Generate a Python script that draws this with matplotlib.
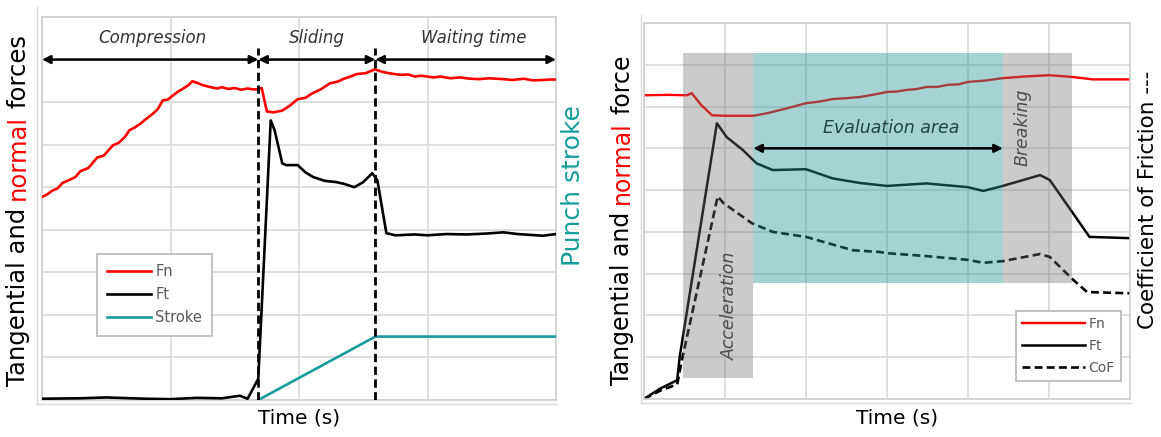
import matplotlib
matplotlib.use('Agg')
import matplotlib.pyplot as plt
from matplotlib.transforms import IdentityTransform
from matplotlib.lines import Line2D
from matplotlib.patches import Rectangle

# ---------------- data (left panel) ----------------
phase_names = ["Compression", "Sliding", "Waiting time"]
phase_bounds = [0.0, 1.683, 2.594, 4.0]
phase_label_x = [0.856, 2.14, 3.36]

t_fn_left = [0.00, 0.04, 0.08, 0.12, 0.16, 0.22, 0.26, 0.30, 0.36, 0.43, 0.48, 0.55, 0.60,
             0.65, 0.68, 0.72, 0.76, 0.80, 0.86, 0.90, 0.94, 0.98, 1.02, 1.06, 1.10, 1.14,
             1.17, 1.21, 1.25, 1.30, 1.36, 1.40, 1.45, 1.50, 1.55, 1.60, 1.64, 1.68, 1.71,
             1.75, 1.80, 1.87, 1.93, 1.99, 2.05, 2.10, 2.17, 2.24, 2.30, 2.35, 2.40, 2.45,
             2.52, 2.59, 2.64, 2.68, 2.74, 2.80, 2.85, 2.90, 2.95, 3.00, 3.05, 3.10, 3.18,
             3.25, 3.33, 3.40, 3.48, 3.59, 3.66, 3.75, 3.82, 3.90, 3.95, 4.00]
fn_left = [4.77, 4.83, 4.92, 4.97, 5.10, 5.18, 5.24, 5.38, 5.45, 5.70, 5.74, 5.98, 6.05,
           6.20, 6.34, 6.40, 6.48, 6.58, 6.72, 6.83, 7.04, 7.06, 7.16, 7.25, 7.32, 7.40,
           7.49, 7.45, 7.40, 7.36, 7.32, 7.35, 7.31, 7.33, 7.29, 7.32, 7.30, 7.30, 7.33,
           6.78, 6.76, 6.80, 6.92, 7.07, 7.10, 7.20, 7.30, 7.44, 7.48, 7.55, 7.60, 7.66,
           7.68, 7.77, 7.72, 7.69, 7.66, 7.64, 7.65, 7.60, 7.62, 7.60, 7.58, 7.60, 7.56,
           7.58, 7.55, 7.54, 7.56, 7.54, 7.52, 7.55, 7.51, 7.52, 7.53, 7.53]

t_ft_left = [0.00, 0.30, 0.50, 0.80, 1.00, 1.20, 1.40, 1.54, 1.60, 1.683, 1.78, 1.81, 1.87,
             1.90, 1.99, 2.05, 2.11, 2.20, 2.29, 2.35, 2.43, 2.50, 2.57, 2.61, 2.68, 2.75,
             2.90, 3.00, 3.15, 3.30, 3.45, 3.59, 3.70, 3.80, 3.90, 4.00]
ft_left = [0.03, 0.04, 0.06, 0.03, 0.02, 0.05, 0.04, 0.10, 0.03, 0.50, 6.57, 6.34, 5.56,
           5.52, 5.52, 5.35, 5.24, 5.15, 5.12, 5.08, 5.00, 5.12, 5.33, 5.16, 3.92, 3.87,
           3.89, 3.87, 3.90, 3.89, 3.91, 3.94, 3.90, 3.88, 3.86, 3.90]

t_stroke = [1.683, 2.594, 4.0]
stroke = [0.0, 1.49, 1.49]

# ---------------- data (right panel) ----------------
t_fn_right = [0.00, 0.30, 0.53, 0.59, 0.70, 0.84, 1.00, 1.35, 1.52, 1.75, 2.00, 2.17, 2.33,
              2.50, 2.67, 2.85, 3.00, 3.12, 3.25, 3.37, 3.49, 3.62, 3.75, 3.88, 4.00, 4.20,
              4.43, 4.70, 5.00, 5.28, 5.54, 6.00]
fn_right = [7.27, 7.28, 7.27, 7.32, 7.05, 6.79, 6.78, 6.78, 6.84, 6.95, 7.08, 7.12, 7.18,
            7.20, 7.23, 7.29, 7.35, 7.36, 7.40, 7.42, 7.47, 7.47, 7.52, 7.53, 7.59, 7.62,
            7.68, 7.72, 7.75, 7.71, 7.65, 7.65]

t_ft_right = [0.00, 0.20, 0.41, 0.44, 0.90, 1.02, 1.22, 1.39, 1.59, 2.00, 2.33, 2.67, 3.00,
              3.49, 4.00, 4.19, 4.43, 4.89, 5.01, 5.50, 6.00]
ft_right = [0.00, 0.25, 0.45, 1.00, 6.60, 6.27, 5.96, 5.64, 5.48, 5.50, 5.28, 5.17, 5.10,
            5.16, 5.07, 4.98, 5.10, 5.36, 5.24, 3.88, 3.85]

t_cof_right = [0.00, 0.20, 0.41, 0.46, 0.91, 0.98, 1.33, 1.59, 2.00, 2.58, 2.91, 3.00, 3.49,
               4.00, 4.19, 4.43, 4.89, 5.01, 5.30, 5.47, 6.00]
cof_right = [0.00, 0.20, 0.35, 0.86, 4.85, 4.69, 4.21, 4.00, 3.88, 3.56, 3.52, 3.49, 3.42,
             3.33, 3.26, 3.30, 3.47, 3.40, 2.85, 2.56, 2.53]

region_names = ["Acceleration", "Evaluation area", "Breaking"]
region_x = [(0.48, 1.35), (1.35, 4.43), (4.43, 5.28)]
region_y = [(0.50, 8.28), (2.78, 8.28), (2.78, 8.28)]

# ---------------- figure ----------------
W, H = 1161, 437
fig = plt.figure(figsize=(W / 100, H / 100), dpi=100)
plt.rcParams['font.family'] = ['DejaVu Sans']

axL = fig.add_axes([42 / W, (H - 400) / H, 514 / W, 383 / H])
axR = fig.add_axes([644 / W, (H - 399) / H, 486 / W, 376 / H])

GRID = '#dcdcdc'
for ax, nx in ((axL, 4), (axR, 6)):
    ax.set_xlim(0, nx)
    ax.set_ylim(0, 9)
    ax.set_xticks(range(nx + 1))
    ax.set_yticks(range(10))
    ax.tick_params(length=0, labelbottom=False, labelleft=False)
    ax.grid(True, color=GRID, lw=1.3)
    ax.set_axisbelow(True)
    for s in ax.spines.values():
        s.set_color('#cfcfcf')
        s.set_linewidth(1.2)

# outer chart-area frames
for (x0, x1, y0, y1) in ((37, 557, 7, 404), (641, 1131, 15, 403)):
    fig.add_artist(Line2D([x0 / W, x0 / W], [(H - y1) / H, (H - y0) / H], color='#d9d9d9', lw=1.0))
    fig.add_artist(Line2D([x0 / W, x1 / W], [(H - y1) / H, (H - y1) / H], color='#d9d9d9', lw=1.0))

RED = '#ff0000'
TEAL = '#169c9c'

# ---- left panel ----
axL.plot(t_fn_left, fn_left, color=RED, lw=1.9, label='Fn', zorder=3)
axL.plot(t_ft_left, ft_left, color='black', lw=1.9, label='Ft', zorder=3)
axL.plot(t_stroke, stroke, color=TEAL, lw=1.9, label='Stroke', zorder=3)
for xv in phase_bounds[1:3]:
    axL.plot([xv, xv], [0, 8.27], color='black', lw=2.0, dashes=(3, 1.6), zorder=4)
for i in range(3):
    axL.annotate('', xy=(phase_bounds[i + 1], 8), xytext=(phase_bounds[i], 8),
                 arrowprops=dict(arrowstyle='<|-|>', color='black', lw=1.8,
                                 mutation_scale=12, shrinkA=0, shrinkB=0), zorder=5)
    axL.text(phase_label_x[i], 8.5, phase_names[i], style='italic', fontsize=12,
             color='#333333', ha='center', va='center')
legL = axL.legend(loc='upper left', bbox_to_anchor=(0.107, 0.381), borderaxespad=0,
                  fontsize=10.5, handlelength=3.0, labelspacing=0.55, fancybox=False,
                  edgecolor='#bdbdbd', framealpha=1, labelcolor='#595959',
                  handletextpad=0.3, borderpad=0.7)
legL.get_frame().set_linewidth(1.3)
legL.set_zorder(10)

# ---- right panel ----
axR.plot(t_fn_right, fn_right, color=RED, lw=1.7, label='Fn', zorder=2)
axR.plot(t_ft_right, ft_right, color='black', lw=1.8, label='Ft', zorder=2)
axR.plot(t_cof_right, cof_right, color='black', lw=1.9, dashes=(3, 1.6), label='CoF', zorder=2)
over_colors = [((0.44, 0.44, 0.44), 0.36), ((0.16, 0.59, 0.59), 0.42), ((0.44, 0.44, 0.44), 0.36)]
for (x0, x1), (y0, y1), (c, a) in zip(region_x, region_y, over_colors):
    axR.add_patch(Rectangle((x0, y0), x1 - x0, y1 - y0, facecolor=c, alpha=a, lw=0, zorder=3))
axR.annotate('', xy=(region_x[1][1], 6.0), xytext=(region_x[1][0], 6.0),
             arrowprops=dict(arrowstyle='<|-|>', color='black', lw=1.8,
                             mutation_scale=12, shrinkA=0, shrinkB=0), zorder=5)
axR.text(3.05, 6.48, region_names[1], style='italic', fontsize=12.5, color='#1e4444',
         ha='center', va='center', zorder=4)
axR.text(1.06, 2.22, region_names[0], style='italic', fontsize=12.5, color='#4d4d4d',
         ha='center', va='center', rotation=90, zorder=4)
axR.text(4.67, 6.5, region_names[2], style='italic', fontsize=12.5, color='#4d4d4d',
         ha='center', va='center', rotation=90, zorder=4)
legR = axR.legend(loc='upper right', bbox_to_anchor=(0.981, 0.234), borderaxespad=0,
                  fontsize=10, handlelength=4.5, labelspacing=0.55, fancybox=False,
                  edgecolor='#bdbdbd', framealpha=1, labelcolor='#595959',
                  handletextpad=0.25, borderpad=0.45)
legR.get_frame().set_linewidth(1.3)
legR.set_zorder(10)

# ---------------- axis labels ----------------
renderer = fig.canvas.get_renderer()
ident = IdentityTransform()


def vlabel(x, yc_top, parts, fontsize):
    """parts: list of (string, color); drawn rotated 90, reading bottom-to-top."""
    full = ' '.join(p for p, _ in parts)

    def ext(s):
        t = fig.text(0, 0, s, rotation=90, fontsize=fontsize, transform=ident)
        h = t.get_window_extent(renderer).height
        t.remove()
        return h
    total = ext(full)
    y0 = (H - yc_top) - total / 2
    prefix = ''
    for s, c in parts:
        prefix = (prefix + ' ' + s) if prefix else s
        start = ext(prefix) - ext(s)
        fig.text(x, y0 + start, s, rotation=90, fontsize=fontsize, color=c,
                 ha='center', va='bottom', transform=ident)


vlabel(18, 210, [("Tangential and", 'black'), ("normal", RED), ("forces", 'black')], 17.5)
vlabel(622, 220, [("Tangential and", 'black'), ("normal", RED), ("force", 'black')], 17)
vlabel(573, 185, [("Punch stroke", TEAL)], 18)
vlabel(1148, 200, [("Coefficient of Friction ---", 'black')], 15.5)

fig.text(299 / W, (H - 418) / H, "Time (s)", fontsize=14.5, ha='center', va='center')
fig.text(897 / W, (H - 418) / H, "Time (s)", fontsize=14.5, ha='center', va='center')

fig.savefig('out.png', dpi=100, facecolor='white')
